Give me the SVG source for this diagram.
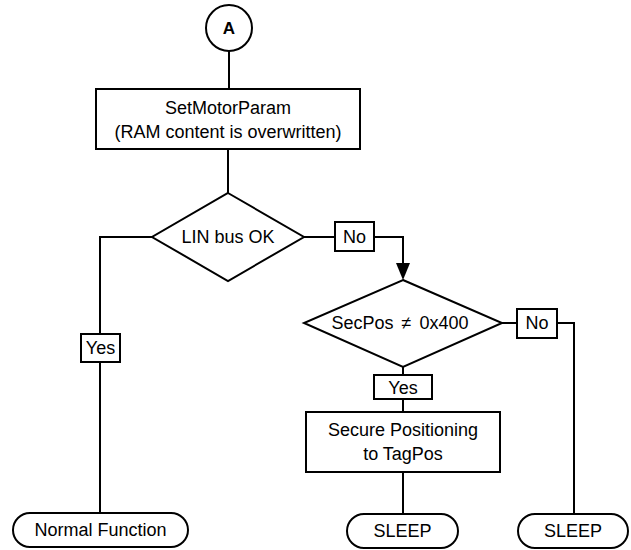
<svg xmlns="http://www.w3.org/2000/svg" width="631" height="550" viewBox="0 0 631 550">
<style>
.s{fill:#fff;stroke:#000;stroke-width:2}
.c{fill:none;stroke:#000;stroke-width:2}
.t{font-family:"Liberation Sans",Arial,sans-serif;font-size:18px;fill:#000;text-anchor:middle}
.b{font-weight:bold;font-size:17px}
</style>
<rect width="631" height="550" fill="#fff"/>
<g id="connectors">
<path class="c" d="M229,51 V89"/>
<path class="c" d="M228,149 V193"/>
<path class="c" d="M152,237 H100 V334"/>
<path class="c" d="M100,362 V513"/>
<path class="c" d="M304,237 H335"/>
<path class="c" d="M374,237 H403 V264"/>
<path d="M396,263 L410,263 L403,280 Z" fill="#000"/>
<path class="c" d="M502,323 H517"/>
<path class="c" d="M557,323 H574 V514"/>
<path class="c" d="M403,367 V375"/>
<path class="c" d="M403,399 V412"/>
<path class="c" d="M403,472 V514"/>
</g>
<g id="start">
<circle class="s" cx="229" cy="28" r="23"/>
<text class="t b" x="229" y="34">A</text>
</g>
<g id="setmotor">
<rect class="s" x="96" y="89" width="264" height="60"/>
<text class="t" x="228" y="114">SetMotorParam</text>
<text class="t" x="228" y="138">(RAM content is overwritten)</text>
</g>
<g id="linbus">
<polygon class="s" points="228,193 304,237 228,281 152,237"/>
<text class="t" x="228" y="243">LIN bus OK</text>
</g>
<g id="no1">
<rect class="s" x="335" y="222" width="39" height="29"/>
<text class="t" x="354.5" y="243">No</text>
</g>
<g id="yes1">
<rect class="s" x="81" y="334" width="39" height="28"/>
<text class="t" x="100.5" y="354">Yes</text>
</g>
<g id="secpos">
<polygon class="s" points="403,280 502,323 403,367 304,323"/>
<text class="t" x="400" y="329">SecPos<tspan dx="8">≠</tspan><tspan dx="8">0x400</tspan></text>
</g>
<g id="no2">
<rect class="s" x="517" y="309" width="40" height="29"/>
<text class="t" x="537" y="329">No</text>
</g>
<g id="yes2">
<rect class="s" x="374" y="375" width="58" height="24"/>
<text class="t" x="403" y="394">Yes</text>
</g>
<g id="secure">
<rect class="s" x="306" y="412" width="194" height="60"/>
<text class="t" x="403" y="436">Secure Positioning</text>
<text class="t" x="403" y="460">to TagPos</text>
</g>
<g id="normal">
<rect class="s" x="13" y="513" width="175" height="34" rx="17"/>
<text class="t" x="100.5" y="536">Normal Function</text>
</g>
<g id="sleep1">
<rect class="s" x="347" y="514" width="111" height="34" rx="17"/>
<text class="t" x="402.5" y="537">SLEEP</text>
</g>
<g id="sleep2">
<rect class="s" x="518" y="514" width="110" height="34" rx="17"/>
<text class="t" x="573" y="537">SLEEP</text>
</g>
</svg>
